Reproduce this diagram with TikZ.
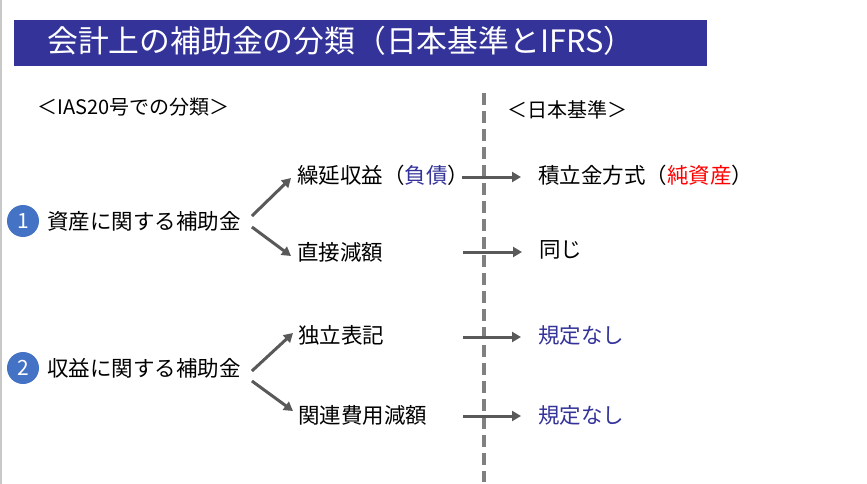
\documentclass[tikz,border=0pt]{standalone}
\usepackage{fontspec}
\setmainfont{Noto Sans CJK JP}
\usetikzlibrary{arrows.meta}
\definecolor{titlebar}{HTML}{333399}
\definecolor{bluetext}{HTML}{333399}
\definecolor{redtext}{HTML}{FF0000}
\definecolor{numblue}{HTML}{4472C4}
\definecolor{arrowgray}{HTML}{595959}
\definecolor{dashgray}{HTML}{808080}
\definecolor{bordergray}{HTML}{C8C8C8}
\tikzset{
  txt/.style={anchor=west, inner sep=0pt, font=\fontsize{21.5}{24}\selectfont, text=black},
  hdr/.style={anchor=west, inner sep=0pt, font=\fontsize{20}{24}\selectfont, text=black},
  numcirc/.style={circle, fill=numblue, minimum size=32pt, inner sep=0pt, text=white, font=\fontsize{21}{22}\selectfont},
  conn/.style={draw=arrowgray, line width=3pt, -{Triangle[length=9pt,width=10pt]}},
  divider/.style={draw=dashgray, line width=4pt, dash pattern=on 12pt off 6pt},
}
\begin{document}
\begin{tikzpicture}[x=1pt,y=-1pt]
\useasboundingbox (0,0) rectangle (867,484);
\fill[white] (0,0) rectangle (867,484);
\draw[bordergray, line width=1.5pt] (0.75,0) -- (0.75,484);
% title bar
\node[fill=titlebar, minimum width=693pt, minimum height=46pt, inner sep=0pt, anchor=north west] (bar) at (14,20) {};
\node[anchor=west, inner sep=0pt, text=white, font=\fontsize{30.8}{33}\selectfont] (title) at (47,41) {会計上の補助金の分類（日本基準とIFRS）};
% headers
\node[hdr] (hl) at (37,107) {＜IAS20号での分類＞};
\node[hdr] (hr) at (507,110) {＜日本基準＞};
% divider
\coordinate (dtop) at (484,93);
\coordinate (dbot) at (484,482);
\draw[divider] (dtop) -- (dbot);
% row 1
\node[numcirc] (n1) at (23,221) {1};
\node[txt] (a1) at (47,221) {資産に関する補助金};
\node[txt] (b1) at (297,175) {繰延収益（\textcolor{bluetext}{負債}）};
\node[txt] (c1) at (297,252) {直接減額};
\node[txt] (d1) at (538,175) {積立金方式（\textcolor{redtext}{純資産}）};
\node[txt] (e1) at (539,250) {同じ};
% row 2
\node[numcirc] (n2) at (23,368) {2};
\node[txt] (a2) at (47,368) {収益に関する補助金};
\node[txt] (b2) at (298,335) {独立表記};
\node[txt] (c2) at (298,415) {関連費用減額};
\node[txt, text=bluetext] (d2) at (538,335) {規定なし};
\node[txt, text=bluetext] (e2) at (538,415) {規定なし};
% diagonal connectors
\draw[conn] ([xshift=11pt,yshift=5pt]a1.east) -- ([xshift=-6pt,yshift=-3pt]b1.west);
\draw[conn] ([xshift=11pt,yshift=-6pt]a1.east) -- ([xshift=-6pt,yshift=-4pt]c1.west);
\draw[conn] ([xshift=11pt,yshift=-3pt]a2.east) -- ([xshift=-5pt,yshift=2pt]b2.west);
\draw[conn] ([xshift=11pt,yshift=-13pt]a2.east) -- ([xshift=-5pt,yshift=4pt]c2.west);
% horizontal connectors
\coordinate (s1) at (462,177);
\coordinate (s2) at (463,252);
\coordinate (s3) at (463,337);
\coordinate (s4) at (463,416);
\draw[conn] (s1) -- ([xshift=-17pt]s1 -| d1.west);
\draw[conn] (s2) -- ([xshift=-17pt]s2 -| e1.west);
\draw[conn] (s3) -- ([xshift=-17pt]s3 -| d2.west);
\draw[conn] (s4) -- ([xshift=-17pt]s4 -| e2.west);
\end{tikzpicture}
\end{document}
